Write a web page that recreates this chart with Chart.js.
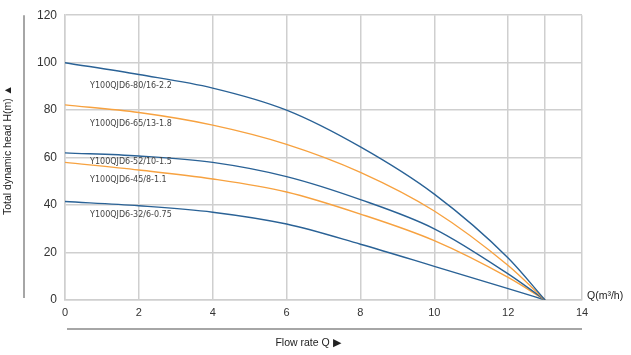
<!DOCTYPE html>
<html><head><meta charset="utf-8">
<script src="https://cdn.jsdelivr.net/npm/chart.js@4"></script>
<style>html,body{margin:0;padding:0;background:#fff;}#wrap{width:631px;height:355px;position:relative;}</style>
</head><body><div id="wrap"><canvas id="c" width="631" height="355"></canvas></div>
<script>
const flowQ = [0, 2, 4, 6, 8, 10, 12, 13];
const head80 = [100, 95, 89.3, 80, 64.5, 44.6, 17.7, 0];
const head65 = [82.2, 79, 73.7, 65.6, 53.8, 37.5, 14.5, 0];
const head52 = [62, 60.7, 58, 52, 42.3, 30, 11, 0];
const head45 = [58, 54.8, 51, 45.5, 36.2, 25, 9.5, 0];
const head32 = [41.5, 39.7, 37, 32, 23.5, 14.2, 4.8, 0];
const seriesNames = ['Y100QJD6-80/16-2.2','Y100QJD6-65/13-1.8','Y100QJD6-52/10-1.5','Y100QJD6-45/8-1.1','Y100QJD6-32/6-0.75'];
const labelAnchorQ = [0.68, 0.68, 0.68, 0.68, 0.68];
const labelAnchorH = [90, 74, 58, 50.6, 35.8];
const xTicks = [0, 2, 4, 6, 8, 10, 12, 13, 14];
const yTicks = [0, 20, 40, 60, 80, 100, 120];

const BLUE = '#2a6296', ORANGE = '#f7a240';
const allHeads = [head80, head65, head52, head45, head32];
const colors = [BLUE, ORANGE, BLUE, ORANGE, BLUE];
const datasets = allHeads.map((h, i) => ({
  label: seriesNames[i],
  data: flowQ.map((q, j) => ({x: q, y: h[j]})),
  borderColor: colors[i], borderWidth: 1.4, pointRadius: 0,
  cubicInterpolationMode: 'monotone', fill: false
}));

const deco = {
  id: 'deco',
  afterDatasetsDraw(chart) {
    const ctx = chart.ctx, xs = chart.scales.x, ys = chart.scales.y;
    ctx.save();
    ctx.font = '8px "DejaVu Sans", sans-serif';
    ctx.fillStyle = '#444';
    ctx.textBaseline = 'middle';
    ctx.textAlign = 'left';
    seriesNames.forEach((n, i) => {
      ctx.fillText(n, xs.getPixelForValue(labelAnchorQ[i]), ys.getPixelForValue(labelAnchorH[i]));
    });
    ctx.strokeStyle = '#888'; ctx.lineWidth = 1.5;
    ctx.beginPath(); ctx.moveTo(24, chart.chartArea.top); ctx.lineTo(24, chart.chartArea.bottom - 2); ctx.stroke();
    ctx.beginPath(); ctx.moveTo(67, 329); ctx.lineTo(chart.chartArea.right, 329); ctx.stroke();
    ctx.fillStyle = '#222';
    ctx.font = '10.5px "Liberation Sans", Arial, sans-serif';
    ctx.textAlign = 'center';
    ctx.fillText('Flow rate Q \u25B6', 308, 343);
    ctx.textAlign = 'left';
    ctx.fillText('Q(m\u00B3/h)', 587, 296);
    ctx.translate(8, 150);
    ctx.rotate(-Math.PI/2);
    ctx.textAlign = 'center';
    ctx.fillText('Total dynamic head H(m) \u25B2', 0, 0);
    ctx.restore();
  }
};

new Chart(document.getElementById('c'), {
  type: 'line',
  data: { datasets },
  options: {
    responsive: false, animation: false,
    layout: { padding: { left: 0, right: 49, top: 8, bottom: 0 } },
    plugins: { legend: { display: false }, tooltip: { enabled: false } },
    scales: {
      x: {
        type: 'linear', min: 0, max: 14,
        afterBuildTicks(s) { s.ticks = xTicks.map(v => ({value: v})); },
        afterFit(s) { s.height = 55; },
        grid: { color: '#cfcfcf', lineWidth: 1.5, drawTicks: false },
        border: { display: true, color: '#cfcfcf', width: 1.5 },
        ticks: {
          padding: 6, color: '#333', font: { size: 11, family: '"Liberation Sans", Arial, sans-serif' },
          callback(v) { return v === 13 ? '' : String(v); }, maxRotation: 0, autoSkip: false
        }
      },
      y: {
        min: 0, max: 120,
        afterBuildTicks(s) { s.ticks = yTicks.map(v => ({value: v})); },
        afterFit(s) { s.width = 65; },
        grid: { color: '#cfcfcf', lineWidth: 1.5, drawTicks: false },
        border: { display: true, color: '#cfcfcf', width: 1.5 },
        ticks: { padding: 8, color: '#333', font: { size: 12, family: '"Liberation Sans", Arial, sans-serif' } }
      }
    }
  },
  plugins: [deco]
});
</script></body></html>
